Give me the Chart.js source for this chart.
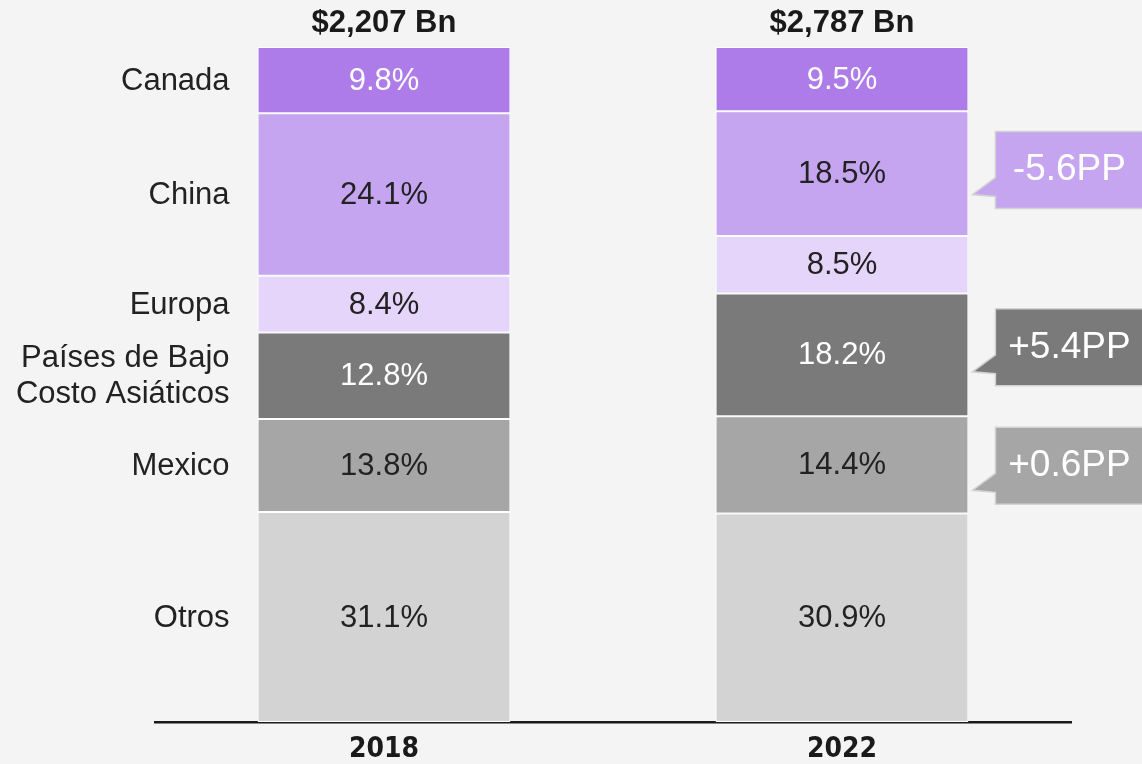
<!DOCTYPE html>
<html>
<head>
<meta charset="utf-8">
<title>Importaciones por origen 2018 vs 2022</title>
<script src="https://cdn.jsdelivr.net/npm/chart.js@4.4.1/dist/chart.umd.min.js"></script>
<style>
  html, body { margin: 0; padding: 0; background: #f4f4f4; }
  #wrap { width: 1142px; height: 764px; position: relative; }
</style>
</head>
<body>
<div id="wrap"><canvas id="myChart"></canvas></div>
<script>
// data (stack order: bottom to top)
const years = ['2018', '2022'];
const totals = ['$2,207 Bn', '$2,787 Bn'];
const regions = ['Otros', 'Mexico', ['Países de Bajo', 'Costo Asiáticos'], 'Europa', 'China', 'Canada'];
const otros = [31.1, 30.9];
const mexico = [13.8, 14.4];
const paisesBajoCosto = [12.8, 18.2];
const europa = [8.4, 8.5];
const china = [24.1, 18.5];
const canada = [9.8, 9.5];
// callouts on the 2022 bar: dataset index and text
const calloutSeries = [4, 2, 1];
const calloutText = ['-5.6PP', '+5.4PP', '+0.6PP'];

const colors = ['#d3d3d3', '#a6a6a6', '#7a7a7a', '#e6d5fa', '#c6a5f0', '#ad7ce9'];
const textColors = ['#222', '#222', '#fff', '#222', '#222', '#fff'];
// small vertical nudge of each callout box relative to its segment centre
const calloutNudge = [-3.5, -7.5, 1];

const FONT = "'Liberation Sans', Arial, sans-serif";
Chart.defaults.font.family = FONT;
Chart.defaults.color = '#222';

const seriesValues = [otros, mexico, paisesBajoCosto, europa, china, canada];

const data = {
    labels: years,
    datasets: seriesValues.map((vals, i) => ({
        label: Array.isArray(regions[i]) ? regions[i].join(' ') : regions[i],
        data: vals,
        backgroundColor: colors[i],
        borderColor: '#ffffff',
        borderWidth: 1,
        borderSkipped: false,
        categoryPercentage: 1,
        barPercentage: 0.552
    }))
};

// labels, totals, category names and callouts
const annotatePlugin = {
    id: 'annotate',
    afterDatasetsDraw(chart) {
        const { ctx, chartArea: { top } } = chart;
        ctx.save();
        ctx.textAlign = 'center';
        ctx.textBaseline = 'middle';

        // values inside segments
        ctx.font = '31px ' + FONT;
        chart.data.datasets.forEach((ds, i) => {
            chart.getDatasetMeta(i).data.forEach((bar, j) => {
                ctx.fillStyle = textColors[i];
                ctx.fillText(ds.data[j].toFixed(1) + '%', bar.x, (bar.y + bar.base) / 2 + 1);
            });
        });

        // totals above bars
        ctx.font = 'bold 31px ' + FONT;
        ctx.fillStyle = '#1a1a1a';
        chart.getDatasetMeta(0).data.forEach((bar, j) => {
            ctx.fillText(totals[j], bar.x, top - 24);
        });

        // region names on the left of the first bar
        ctx.font = '31px ' + FONT;
        ctx.textAlign = 'right';
        ctx.fillStyle = '#222';
        regions.forEach((name, i) => {
            const bar = chart.getDatasetMeta(i).data[0];
            const cy = (bar.y + bar.base) / 2;
            const x = bar.x - bar.width / 2 - 28;
            if (Array.isArray(name)) {
                const lh = 36;
                name.forEach((line, k) => {
                    ctx.fillText(line, x, cy + (k - (name.length - 1) / 2) * lh + 1);
                });
            } else {
                ctx.fillText(name, x, cy + 1);
            }
        });

        // change callouts next to the second bar
        ctx.textAlign = 'center';
        ctx.font = '37px ' + FONT;
        calloutSeries.forEach((s, k) => {
            const bar = chart.getDatasetMeta(s).data[1];
            const cy = (bar.y + bar.base) / 2 + calloutNudge[k];
            const left = bar.x + bar.width / 2 + 27;
            const right = chart.width + 10;
            const h = 77;
            const boxTop = cy - h / 2;
            const boxBottom = cy + h / 2;
            ctx.beginPath();
            ctx.moveTo(left, boxTop);
            ctx.lineTo(right, boxTop);
            ctx.lineTo(right, boxBottom);
            ctx.lineTo(left, boxBottom);
            ctx.lineTo(left, boxBottom - 12);
            ctx.lineTo(left - 23, boxBottom - 14);
            ctx.lineTo(left, boxBottom - 31);
            ctx.closePath();
            ctx.fillStyle = colors[s];
            ctx.fill();
            ctx.strokeStyle = '#d2d2d2';
            ctx.lineWidth = 1.5;
            ctx.stroke();
            ctx.fillStyle = '#ffffff';
            ctx.fillText(calloutText[k], left + 74, cy);
        });

        ctx.restore();
    }
};

const config = {
    type: 'bar',
    data,
    options: {
        responsive: true,
        maintainAspectRatio: false,
        animation: false,
        layout: {
            padding: { left: 155, right: 71, top: 47, bottom: 0 }
        },
        plugins: {
            legend: { display: false },
            tooltip: { enabled: false }
        },
        scales: {
            x: {
                stacked: true,
                grid: { display: false, drawTicks: false },
                border: { display: true, color: '#1a1a1a', width: 2.5 },
                ticks: {
                    padding: 11,
                    color: '#1a1a1a',
                    font: { family: "'DejaVu Sans Condensed', 'Liberation Sans', sans-serif", size: 28, weight: 'bold' }
                },
                afterFit(scale) {
                    scale.height = 42;
                }
            },
            y: {
                stacked: true,
                display: false,
                min: 0,
                max: 100
            }
        }
    },
    plugins: [annotatePlugin]
};

new Chart(document.getElementById('myChart'), config);
</script>
</body>
</html>
